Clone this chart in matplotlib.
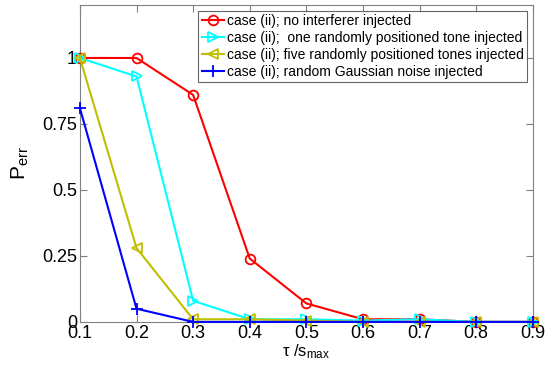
import matplotlib
matplotlib.use("Agg")
import matplotlib.pyplot as plt

plt.rcParams['font.family'] = ['Liberation Sans', 'DejaVu Sans']
plt.rcParams['mathtext.fontset'] = 'custom'
plt.rcParams['mathtext.rm'] = 'Liberation Sans'
plt.rcParams['mathtext.it'] = 'Liberation Sans'

tau = [0.1, 0.2, 0.3, 0.4, 0.5, 0.6, 0.7, 0.8, 0.9]
no_interf = [1.0, 1.0, 0.86, 0.24, 0.07, 0.01, 0.01, 0.0, 0.0]
one_tone = [1.0, 0.93, 0.08, 0.01, 0.01, 0.005, 0.01, 0.0, 0.0]
five_tones = [1.0, 0.28, 0.01, 0.01, 0.005, 0.0, 0.0, 0.0, 0.0]
gauss = [0.81, 0.05, 0.0, 0.0, 0.0, 0.0, 0.0, 0.0, 0.0]
labels = ['case (ii); no interferer injected',
          'case (ii);  one randomly positioned tone injected',
          'case (ii); five randomly positioned tones injected',
          'case (ii); random Gaussian noise injected']
yticks = [0, 0.25, 0.5, 0.75, 1]
yticklabels = ['0', '0.25', '0.5', '0.75', '1']

fig = plt.figure(figsize=(5.51, 3.70), dpi=100)
ax = fig.add_axes([0.145, 0.130, 0.822, 0.856])

common = dict(mfc='none', ms=7, mew=1.3, lw=1.5, clip_on=False, zorder=3)
ax.plot(tau, no_interf, color='#FF0000', marker='o', label=labels[0], **common)
ax.plot(tau, one_tone, color='#00FFFF', marker='>', label=labels[1], **common)
ax.plot(tau, five_tones, color='#BFBF00', marker='<', label=labels[2], **common)
ax.plot(tau, gauss, color='#0000FF', marker='+', ms=8, mew=1.3, lw=1.5, clip_on=False, zorder=3, label=labels[3])

ax.set_xlim(0.1, 0.9)
ax.set_ylim(0, 1.2)
ax.set_xticks(tau)
ax.set_xticklabels([f'{t:.1f}' for t in tau])
ax.set_yticks(yticks)
ax.set_yticklabels(yticklabels)
ax.tick_params(direction='in', top=True, right=True, labelsize=13, color='#808080', length=5, pad=2)
for s in ax.spines.values():
    s.set_color('#808080')
ax.set_xlabel(r'$\tau$ /s$_{\mathrm{max}}$', fontsize=12, labelpad=0.5)
ax.set_ylabel(r'P$_{\mathrm{err}}$', fontsize=15, labelpad=8)

leg = ax.legend(loc='upper right', fontsize=10, frameon=True, fancybox=False,
                edgecolor='#404040', handlelength=1.6, handletextpad=0.2,
                borderpad=0.25, labelspacing=0.2, borderaxespad=0.4)
leg.get_frame().set_linewidth(0.8)

fig.savefig('out.png', dpi=100)
